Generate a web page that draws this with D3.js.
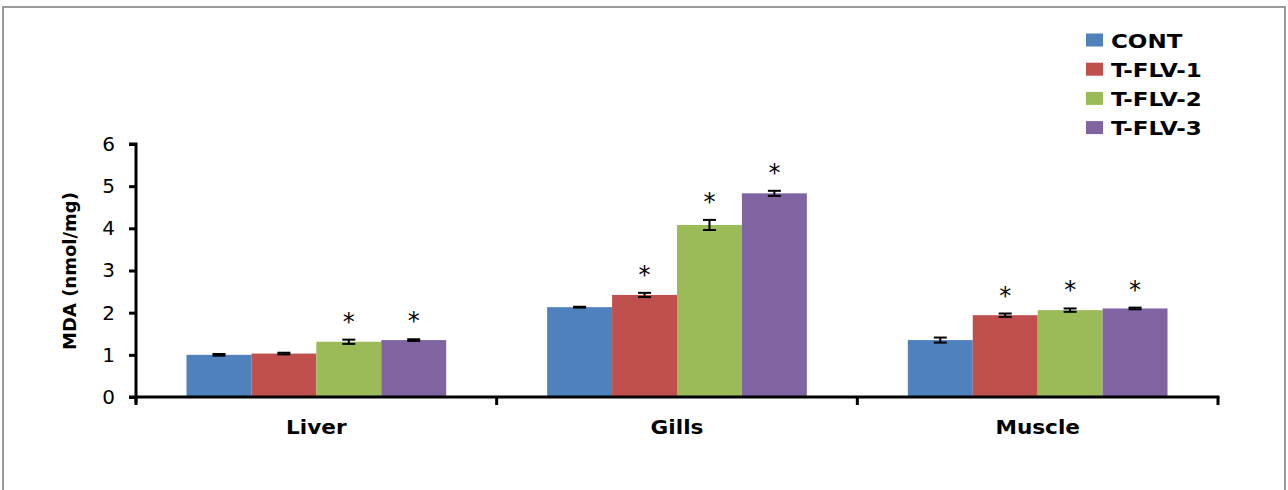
<html>
    <head>
        <script src="https://d3js.org/d3.v7.min.js"></script>
        <style>
            body{ margin:0; background:white; }
            text{ font-family: "DejaVu Sans", Verdana, sans-serif; }
        </style>
    </head>
    <body>
        <svg id="svg" width="1288" height="490"></svg>
        <script>
            var categories = ["Liver", "Gills", "Muscle"];
            var groups = ["CONT", "T-FLV-1", "T-FLV-2", "T-FLV-3"];
            var colors = ["#4f81bd", "#c0504d", "#9bbb59", "#8064a2"];
            // mean per category, one array per group
            var cont  = [1.00, 2.13, 1.35];
            var flv1  = [1.03, 2.42, 1.94];
            var flv2  = [1.31, 4.08, 2.06];
            var flv3  = [1.35, 4.83, 2.10];
            var contErr = [0.02, 0.01, 0.06];
            var flv1Err = [0.02, 0.05, 0.04];
            var flv2Err = [0.05, 0.12, 0.04];
            var flv3Err = [0.02, 0.06, 0.02];
            // significance markers
            var contSig = [false, false, false];
            var flv1Sig = [false, true, true];
            var flv2Sig = [true, true, true];
            var flv3Sig = [true, true, true];
            var yTicks = [0, 1, 2, 3, 4, 5, 6];

            var values = [cont, flv1, flv2, flv3];
            var errs = [contErr, flv1Err, flv2Err, flv3Err];
            var sigs = [contSig, flv1Sig, flv2Sig, flv3Sig];

            var svg = d3.select("svg");
            var plot = {left: 136, right: 1218, top: 144, bottom: 397};

            // outer frame
            svg.append("path")
                .attr("d", "M3,492 L3,7 L1285,7 L1285,492")
                .attr("fill", "none")
                .attr("stroke", "#9a9a9a")
                .attr("stroke-width", 2);

            var x0 = d3.scaleBand().domain(categories)
                .range([plot.left, plot.right])
                .paddingInner(0.28).paddingOuter(0.14);
            var x1 = d3.scaleBand().domain(groups)
                .range([0, x0.bandwidth()]);
            var y = d3.scaleLinear().domain([0, 6]).range([plot.bottom, plot.top]);

            var data = [];
            categories.forEach(function(c, ci){
                groups.forEach(function(g, gi){
                    data.push({cat: c, grp: g, gi: gi, v: values[gi][ci], e: errs[gi][ci], sig: sigs[gi][ci]});
                });
            });

            svg.selectAll("rect.bar").data(data).enter().append("rect")
                .attr("class", "bar")
                .attr("x", function(d){ return x0(d.cat) + x1(d.grp); })
                .attr("y", function(d){ return y(d.v); })
                .attr("width", x1.bandwidth())
                .attr("height", function(d){ return y(0) - y(d.v); })
                .attr("fill", function(d){ return colors[d.gi]; });

            // error bars
            var eb = svg.selectAll("g.err").data(data).enter().append("g")
                .attr("class", "err")
                .attr("transform", function(d){ return "translate(" + (x0(d.cat) + x1(d.grp) + x1.bandwidth() / 2) + ",0)"; });
            eb.append("line")
                .attr("x1", 0).attr("x2", 0)
                .attr("y1", function(d){ return y(d.v + d.e); })
                .attr("y2", function(d){ return y(d.v - d.e); })
                .attr("stroke", "black").attr("stroke-width", 2);
            eb.append("line")
                .attr("x1", -6.5).attr("x2", 6.5)
                .attr("y1", function(d){ return y(d.v + d.e); })
                .attr("y2", function(d){ return y(d.v + d.e); })
                .attr("stroke", "black").attr("stroke-width", 2);
            eb.append("line")
                .attr("x1", -6.5).attr("x2", 6.5)
                .attr("y1", function(d){ return y(d.v - d.e); })
                .attr("y2", function(d){ return y(d.v - d.e); })
                .attr("stroke", "black").attr("stroke-width", 2);
            eb.filter(function(d){ return d.sig; }).append("text")
                .attr("x", 0)
                .attr("y", function(d){ return y(d.v + d.e) - 10; })
                .attr("text-anchor", "middle")
                .attr("font-size", 24)
                .text("*");

            // y axis
            var yAxis = svg.append("g")
                .attr("transform", "translate(" + plot.left + ",0)")
                .call(d3.axisLeft(y).tickValues(yTicks).tickSize(7).tickPadding(14).tickFormat(d3.format("d")));
            yAxis.select(".domain").attr("stroke", "black").attr("stroke-width", 3)
                .attr("d", "M-7," + plot.top + "H0V" + (plot.bottom + 6));
            yAxis.selectAll(".tick line").attr("stroke", "black").attr("stroke-width", 3);
            yAxis.selectAll(".tick text").attr("font-size", 20).attr("fill", "black")
                .style("font-family", "'DejaVu Sans', sans-serif");

            // x axis with ticks at category boundaries
            var xg = svg.append("g");
            xg.append("line")
                .attr("x1", plot.left - 7).attr("x2", plot.right + 1.5)
                .attr("y1", plot.bottom).attr("y2", plot.bottom)
                .attr("stroke", "black").attr("stroke-width", 3);
            var bounds = categories.map(function(c){ return x0(c) - x0.step() * x0.paddingInner() / 2; });
            bounds.push(plot.right);
            xg.selectAll("line.xt").data(bounds).enter().append("line")
                .attr("class", "xt")
                .attr("x1", function(d){ return d; }).attr("x2", function(d){ return d; })
                .attr("y1", plot.bottom).attr("y2", plot.bottom + 8)
                .attr("stroke", "black").attr("stroke-width", 3);
            xg.selectAll("text").data(categories).enter().append("text")
                .attr("transform", function(d){ return "translate(" + (x0(d) + x0.bandwidth() / 2) + ",434) scale(1.08,1)"; })
                .attr("text-anchor", "middle")
                .attr("font-size", 20)
                .attr("font-weight", "bold")
                .text(function(d){ return d; });

            // y label
            svg.append("text")
                .attr("transform", "translate(76,271) rotate(-90)")
                .attr("text-anchor", "middle")
                .attr("font-size", 18)
                .attr("font-weight", "bold")
                .text("MDA (nmol/mg)");

            // legend
            var leg = svg.selectAll("g.leg").data(groups).enter().append("g")
                .attr("class", "leg")
                .attr("transform", function(d, i){ return "translate(1086," + (40 + i * 29.2) + ")"; });
            leg.append("rect")
                .attr("x", 0).attr("y", -6.5)
                .attr("width", 17).attr("height", 13)
                .attr("fill", function(d, i){ return colors[i]; });
            leg.append("text")
                .attr("transform", "translate(25,7.5) scale(1.18,1)")
                .attr("font-size", 19.5)
                .attr("font-weight", "bold")
                .text(function(d){ return d; });
        </script>
    </body>
</html>
